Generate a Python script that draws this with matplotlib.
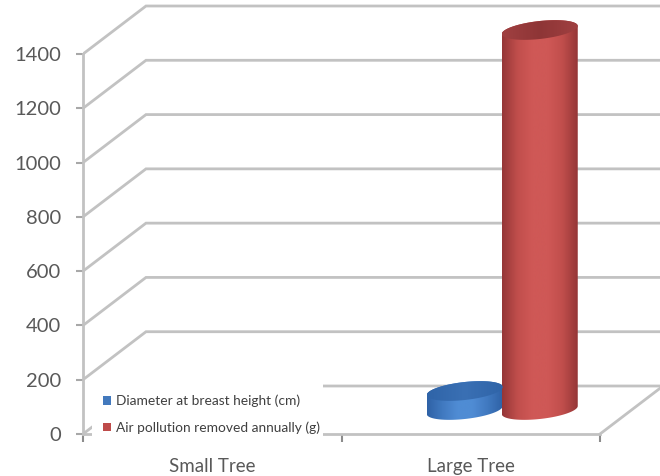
import matplotlib
matplotlib.use('Agg')
import matplotlib.pyplot as plt
import numpy as np
from matplotlib.colors import LinearSegmentedColormap
from matplotlib.patches import Patch, Polygon, Rectangle

categories = ['Small Tree', 'Large Tree']
diameter = [8, 70]
pollution = [30, 1400]
series_names = ['Diameter at breast height (cm)', 'Air pollution removed annually (g)']
y_ticks = [0, 200, 400, 600, 800, 1000, 1200, 1400]

GRID = '#c2c2c2'
TEXT = '#595959'
plt.rcParams['font.family'] = ['Lato', 'DejaVu Sans']

W, H = 660, 476
X0, Y0 = 83, 434          # where the floor's front corner sits
PX_X = 1 / 258.5          # category units per pixel
PX_Y = 1400 / 380         # value units per pixel
DEPTH_X = 63 * PX_X       # oblique offset of the back wall
DEPTH_Y = 48 * PX_Y

fig = plt.figure(figsize=(W / 100, H / 100), dpi=100)
ax = fig.add_axes([X0 / W, (H - Y0) / H, (W - X0) / W, Y0 / H])
ax.set_xlim(0, (W - X0) * PX_X)
ax.set_ylim(0, Y0 * PX_Y)
ax.patch.set_alpha(0)


def cylinder(cx, value, light, mid, dark, top_edge, top_mid):
    # oblique cylinder standing in the middle of the floor depth
    a, b, k = 38 * PX_X, 9 * PX_Y, 4 * PX_Y
    base = DEPTH_Y / 2
    t1 = np.linspace(np.pi, 2 * np.pi, 60)
    t2 = np.linspace(0, np.pi, 60)
    xs = np.r_[cx + a * np.cos(t1), cx + a * np.cos(t2)]
    ys = np.r_[base + b * np.sin(t1) + k * np.cos(t1),
               base + value + b * np.sin(t2) + k * np.cos(t2)]
    body = Polygon(np.c_[xs, ys], closed=True, fc='none', ec='none', transform=ax.transData)
    ax.add_patch(body)
    cmap = LinearSegmentedColormap.from_list('body', [dark, mid, light, light, mid, dark])
    grad = np.linspace(0, 1, 200).reshape(1, -1)
    im = ax.imshow(grad, cmap=cmap, aspect='auto', zorder=3, interpolation='bilinear',
                   extent=[cx - a, cx + a, base - 2 * b, base + value + 2 * b])
    im.set_clip_path(body)

    t = np.linspace(0, 2 * np.pi, 120)
    top_pts = np.c_[cx + a * np.cos(t), base + value + b * np.sin(t) + k * np.cos(t)]
    top = Polygon(top_pts, closed=True, fc='none', ec='none', transform=ax.transData)
    ax.add_patch(top)
    top_cmap = LinearSegmentedColormap.from_list('top', [top_edge, top_mid, top_edge])
    im2 = ax.imshow(grad, cmap=top_cmap, aspect='auto', zorder=4, interpolation='bilinear',
                    extent=[cx - a, cx + a, base + value - 2 * b, base + value + 2 * b])
    im2.set_clip_path(top)


# grid: diagonal on the side wall, then along the back wall
for v in y_ticks:
    ax.plot([0, DEPTH_X, ax.get_xlim()[1]], [v, v + DEPTH_Y, v + DEPTH_Y],
            color=GRID, lw=2, zorder=1, solid_joinstyle='miter')
# right edge of the floor
ax.plot([2, 2 + DEPTH_X], [0, DEPTH_Y], color=GRID, lw=2, zorder=1)

offset = 37.5 * PX_X
for i in range(len(categories)):
    cx = i + 0.5 + DEPTH_X / 2
    cylinder(cx - offset, diameter[i], '#4f8cd4', '#4079c0', '#2f62a6', '#2f64a8', '#3a70b4')
    cylinder(cx + offset, pollution[i], '#cf5856', '#c04e4c', '#953637', '#a04041', '#8e3536')

ax.set_xlim(0, (W - X0) * PX_X)
ax.set_ylim(0, Y0 * PX_Y)

for s in ['top', 'right']:
    ax.spines[s].set_visible(False)
ax.spines['left'].set_bounds(0, 1400)
ax.spines['bottom'].set_bounds(0, 2)
for s in ['left', 'bottom']:
    ax.spines[s].set_color(GRID)
    ax.spines[s].set_linewidth(2)
    ax.spines[s].set_zorder(2)

ax.set_yticks(y_ticks)
ax.set_xticks([0, 1, 2])
ax.set_xticklabels([])
ax.set_xticks([0.5, 1.5], minor=True)
ax.set_xticklabels(categories, minor=True, fontsize=13.5, color=TEXT)
ax.tick_params(axis='y', length=5, width=1.5, color='#a8a8a8', labelsize=14.5,
               labelcolor=TEXT, pad=11)
ax.tick_params(axis='x', which='major', length=6, width=1.5, color='#8c8c8c')
ax.tick_params(axis='x', which='minor', length=0, pad=17)

# white legend panel sits over the small tree's bars and the floor
ax.add_patch(Rectangle((92 / W, (H - 441) / H), 231 / W, 57 / H, transform=fig.transFigure,
                       fc='white', ec='none', zorder=5, clip_on=False))
handles = [Patch(fc='#4379bd', label=series_names[0]), Patch(fc='#be4b4a', label=series_names[1])]
leg = ax.legend(handles=handles, loc='lower left', bbox_to_anchor=(99 / W, (H - 438) / H),
                bbox_transform=fig.transFigure, frameon=False, fontsize=9.9, labelcolor='#404040',
                handlelength=0.55, handleheight=0.55, handletextpad=0.35, labelspacing=1.02,
                borderpad=0.3, borderaxespad=0)
leg.set_zorder(6)

fig.savefig('out.png', dpi=100)
